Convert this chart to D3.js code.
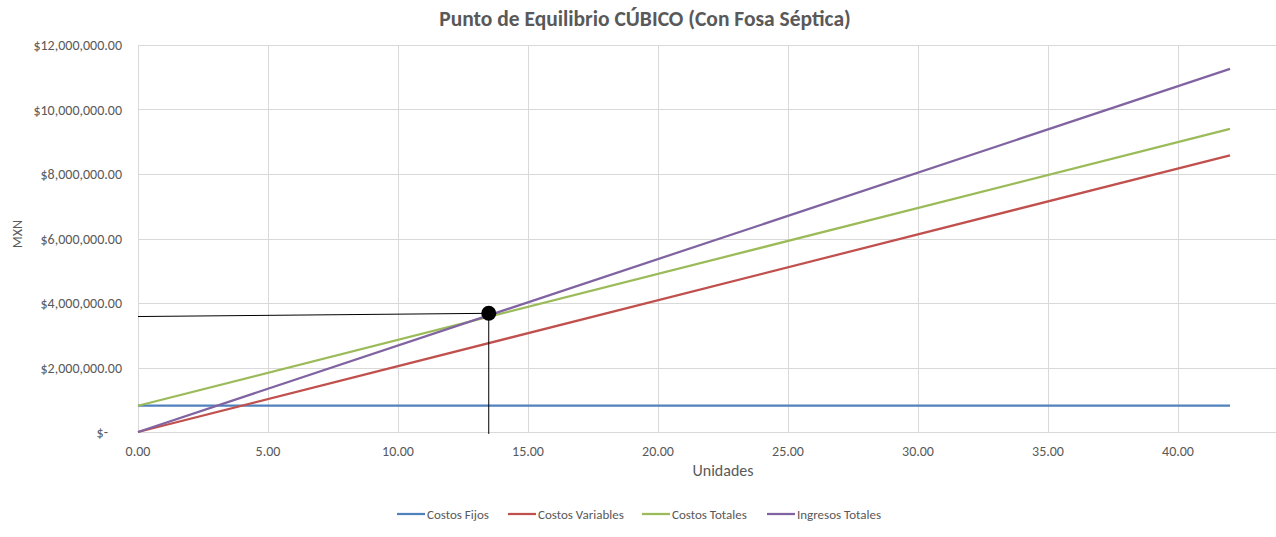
<!DOCTYPE html>
<html>
<head>
<meta charset="utf-8">
<script src="https://cdn.jsdelivr.net/npm/d3@7"></script>
<style>
  html, body { margin: 0; padding: 0; background: #fff; }
  svg { display: block; font-family: Calibri, Carlito, "Open Sans", "Noto Sans", sans-serif; }
  .grid line { stroke: #d9d9d9; stroke-width: 1; }
  .tick-lbl { fill: #595959; font-size: 14px; }
</style>
</head>
<body>
<svg id="chart" width="1276" height="537"></svg>
<script>
// ---- data ----
const unidades = [0, 42];
const costosFijos = [815000, 815000];
const costosVariables = [0, 8580000];
const costosTotales = [815000, 9400000];
const ingresosTotales = [0, 11260000];

// break-even marker + guide lines
const peX = 13.49, peY = 3680000;
const guideH = [[0, 3580000], [peX, peY]];
const guideV = [[peX, peY], [peX, -60000]];

const xTicks = [0, 5, 10, 15, 20, 25, 30, 35, 40];
const yTicks = [0, 2000000, 4000000, 6000000, 8000000, 10000000, 12000000];

const SERIES = [
  { name: 'Costos Fijos',      values: costosFijos,      color: '#4f81bd' },
  { name: 'Costos Variables',  values: costosVariables,  color: '#c0504d' },
  { name: 'Costos Totales',    values: costosTotales,    color: '#9bbb59' },
  { name: 'Ingresos Totales',  values: ingresosTotales,  color: '#8064a2' }
];

const svg = d3.select('#chart');

// plot area runs past the right edge of the picture (x max 45)
const x = d3.scaleLinear().domain([0, 45]).range([138, 138 + 45 * 26]);
const y = d3.scaleLinear().domain([0, 12000000]).range([432, 45]);
const plotRight = x(45);

// gridlines
const grid = svg.append('g').attr('class', 'grid');
grid.selectAll('.gy').data(yTicks).join('line')
  .attr('x1', x(0)).attr('x2', plotRight)
  .attr('y1', d => Math.round(y(d)) + 0.5).attr('y2', d => Math.round(y(d)) + 0.5);
grid.selectAll('.gx').data(xTicks).join('line')
  .attr('x1', d => Math.round(x(d)) + 0.5).attr('x2', d => Math.round(x(d)) + 0.5)
  .attr('y1', y(12000000)).attr('y2', y(0));

// y tick labels (accounting style)
const fmt = d3.format(',.2f');
svg.append('g').selectAll('text').data(yTicks).join('text')
  .attr('class', 'tick-lbl')
  .attr('x', d => d === 0 ? 108 : 122)
  .attr('y', d => y(d) + 5)
  .attr('text-anchor', 'end')
  .text(d => d === 0 ? '$-' : '$' + fmt(d));

// x tick labels
svg.append('g').selectAll('text').data(xTicks).join('text')
  .attr('class', 'tick-lbl')
  .attr('x', d => x(d))
  .attr('y', 456)
  .attr('text-anchor', 'middle')
  .text(d => d.toFixed(2));

// axis titles
svg.append('text')
  .attr('x', (x(0) + plotRight) / 2).attr('y', 476)
  .attr('text-anchor', 'middle')
  .attr('fill', '#595959').attr('font-size', 16)
  .text('Unidades');
svg.append('text')
  .attr('transform', 'translate(22,234) rotate(-90)')
  .attr('text-anchor', 'middle')
  .attr('fill', '#595959').attr('font-size', 14)
  .text('MXN');

// title
svg.append('text')
  .attr('x', 645).attr('y', 26)
  .attr('text-anchor', 'middle')
  .attr('fill', '#595959').attr('font-size', 21.5).attr('font-weight', 'bold')
  .text('Punto de Equilibrio CÚBICO (Con Fosa Séptica)');

// series lines
const line = d3.line().x(d => x(d[0])).y(d => y(d[1]));
SERIES.forEach(s => {
  svg.append('path')
    .datum(unidades.map((u, i) => [u, s.values[i]]))
    .attr('fill', 'none')
    .attr('stroke', s.color)
    .attr('stroke-width', 2.25)
    .attr('d', line);
});

// break-even guides + marker
[guideH, guideV].forEach(g => {
  svg.append('path').datum(g)
    .attr('fill', 'none').attr('stroke', '#000').attr('stroke-width', 1)
    .attr('d', line);
});
svg.append('circle')
  .attr('cx', x(peX)).attr('cy', y(peY)).attr('r', 7.5)
  .attr('fill', '#000');

// legend
const legendPos = [397, 508, 642, 767];
const lg = svg.append('g');
SERIES.forEach((s, i) => {
  const lx = legendPos[i];
  lg.append('line')
    .attr('x1', lx).attr('x2', lx + 28)
    .attr('y1', 514).attr('y2', 514)
    .attr('stroke', s.color).attr('stroke-width', 2.25);
  lg.append('text')
    .attr('x', lx + 30).attr('y', 518.5)
    .attr('fill', '#595959').attr('font-size', 13)
    .text(s.name);
});
</script>
</body>
</html>
